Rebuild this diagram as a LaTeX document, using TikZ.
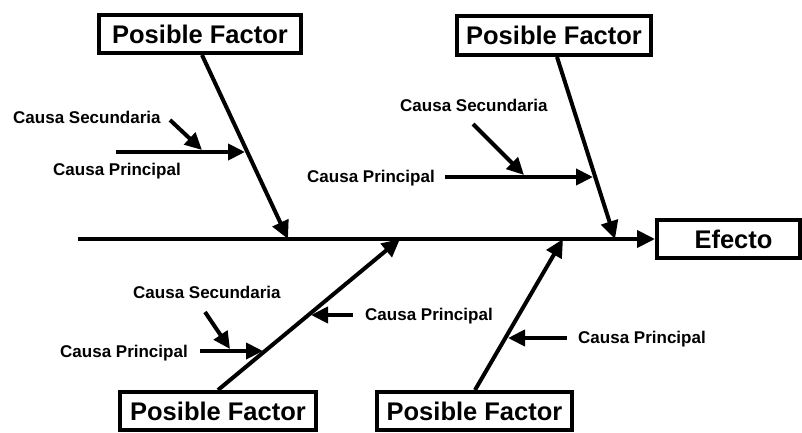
\documentclass[tikz,border=0pt]{standalone}
\usepackage{fontspec}
\setmainfont{Liberation Sans}
\usetikzlibrary{arrows.meta}
\begin{document}
\begin{tikzpicture}[x=1pt,y=-1pt,
  factorbox/.style={draw, line width=4pt, inner sep=0pt,
    font=\bfseries\fontsize{25.5}{30}\selectfont},
  causelabel/.style={anchor=base west, inner sep=0pt,
    font=\bfseries\fontsize{17}{20}\selectfont},
  bone/.style={line width=4pt, -{Triangle[length=18pt,width=17pt]}},
  rib/.style={line width=4pt, -{Triangle[length=17pt,width=16pt]}}]
\useasboundingbox (0,0) rectangle (802,433);

% effect and factor boxes
\node[factorbox, minimum width=143pt, minimum height=38pt] (efecto) at (728.5,239) {\hspace*{10pt}Efecto};
\node[factorbox, minimum width=202pt, minimum height=38pt] (f1) at (200,34) {Posible Factor};
\node[factorbox, minimum width=194pt, minimum height=39pt] (f2) at (554,35.5) {Posible Factor};
\node[factorbox, minimum width=196pt, minimum height=38pt] (f3) at (218,411) {Posible Factor};
\node[factorbox, minimum width=195pt, minimum height=38pt] (f4) at (474.5,411) {Posible Factor};

% cause labels
\node[causelabel] (ls1) at (13,124) {Causa Secundaria};
\node[causelabel] (lp1) at (53,175) {Causa Principal};
\node[causelabel] (ls2) at (400,111) {Causa Secundaria};
\node[causelabel] (lp2) at (307,182) {Causa Principal};
\node[causelabel] (ls3) at (133,298) {Causa Secundaria};
\node[causelabel] (lp3) at (60,357) {Causa Principal};
\node[causelabel] (lp4) at (365,320) {Causa Principal};
\node[causelabel] (lp5) at (578,343) {Causa Principal};

% spine and junction points
\coordinate (tail) at (78,239);
\coordinate (j1) at (288,239);
\coordinate (j2) at (615,239);
\coordinate (j3) at (400,239);
\coordinate (j4) at (563,239);
\coordinate (t1) at ([xshift=2pt]f1.south);
\coordinate (t2) at ([xshift=3pt]f2.south);
\coordinate (t3) at (f3.north);
\coordinate (t4) at ([xshift=0.5pt]f4.north);

\draw[bone] (tail) -- (efecto.west);
\draw[bone] (t1) -- (j1);
\draw[bone] (t2) -- (j2);
\draw[bone] (t3) -- (j3);
\draw[bone] (t4) -- (j4);

% main causes
\coordinate (s1) at (116,152);  \coordinate (e1) at (245,152);
\coordinate (s2) at (445,177);  \coordinate (e2) at (593,177);
\coordinate (s3) at (200,351);  \coordinate (e3) at (263,351);
\coordinate (s4) at (353,315);  \coordinate (e4) at (311,315);
\coordinate (s5) at (567,338);  \coordinate (e5) at (508,338);
\draw[rib] (s1) -- (e1);
\draw[rib] (s2) -- (e2);
\draw[rib] (s3) -- (e3);
\draw[rib] (s4) -- (e4);
\draw[rib] (s5) -- (e5);

% secondary causes
\coordinate (u1) at (170,120);  \coordinate (v1) at (202,150);
\coordinate (u2) at (473,124);  \coordinate (v2) at (524,175);
\coordinate (u3) at (205,312);  \coordinate (v3) at (230,349);
\draw[rib] (u1) -- (v1);
\draw[rib] (u2) -- (v2);
\draw[rib] (u3) -- (v3);
\end{tikzpicture}
\end{document}
